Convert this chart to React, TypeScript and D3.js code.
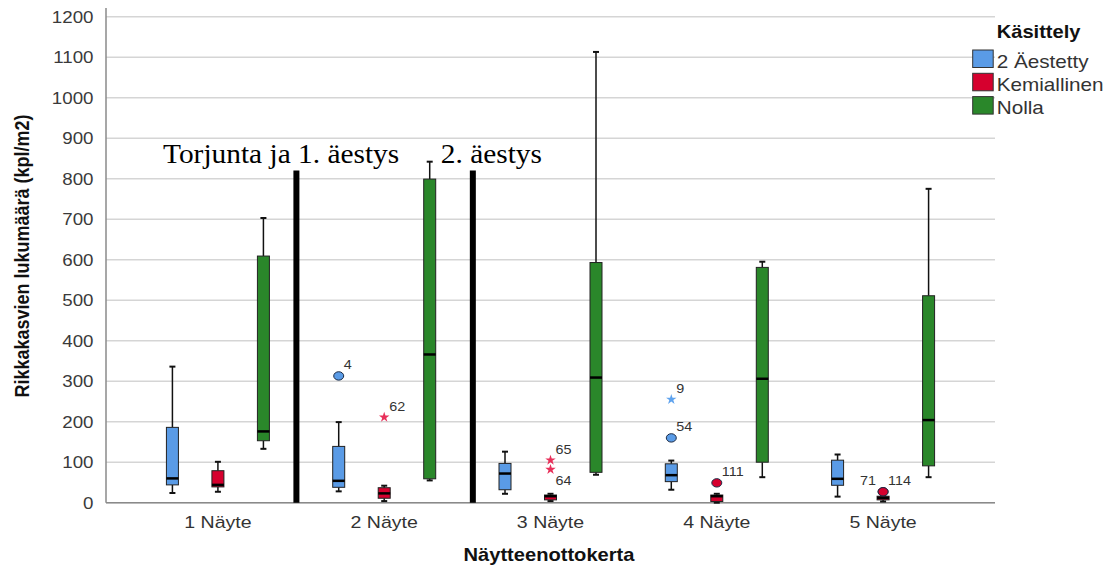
import React from "react";
import * as d3 from "d3";

// Sampling rounds and treatment groups
const categories = ["1 Näyte", "2 Näyte", "3 Näyte", "4 Näyte", "5 Näyte"];
const groups = ["2 Äestetty", "Kemiallinen", "Nolla"];
const groupColors = ["#5a9be6", "#d6002e", "#2a872a"];
const starColors = ["#5fa3ee", "#e8305a", "#2a872a"];

// Box statistics per round: [min whisker, Q1, median, Q3, max whisker]
const aestettyStats = [
  [24, 44, 60, 186, 336],
  [28, 38, 54, 139, 199],
  [22, 32, 72, 97, 126],
  [32, 52, 68, 96, 104],
  [15, 43, 59, 105, 119],
];
const kemiallinenStats = [
  [27, 39, 44, 79, 101],
  [4, 11, 23, 37, 42],
  [4, 7, 16, 19, 22],
  [0, 3, 16, 19, 22],
  [3, 7, 12, 16, 18],
];
const nollaStats = [
  [133, 153, 176, 609, 703],
  [55, 59, 366, 799, 842],
  [69, 75, 309, 593, 1113],
  [63, 100, 306, 581, 595],
  [63, 91, 204, 511, 775],
];
const seriesStats = [aestettyStats, kemiallinenStats, nollaStats];

// Outliers (circle) and extreme values (star) with case numbers
const outliers = [
  { cat: "2 Näyte", group: 0, value: 313, id: "4", shape: "circle", side: "up" },
  { cat: "2 Näyte", group: 1, value: 211, id: "62", shape: "star", side: "up" },
  { cat: "3 Näyte", group: 1, value: 105, id: "65", shape: "star", side: "up" },
  { cat: "3 Näyte", group: 1, value: 82, id: "64", shape: "star", side: "down" },
  { cat: "4 Näyte", group: 0, value: 255, id: "9", shape: "star", side: "up" },
  { cat: "4 Näyte", group: 0, value: 160, id: "54", shape: "circle", side: "up" },
  { cat: "4 Näyte", group: 1, value: 49, id: "111", shape: "circle", side: "up" },
  { cat: "5 Näyte", group: 1, value: 27, id: "71", shape: "circle", side: "left" },
  { cat: "5 Näyte", group: 1, value: 27, id: "114", shape: "circle", side: "up" },
];

const yTicks = [0, 100, 200, 300, 400, 500, 600, 700, 800, 900, 1000, 1100, 1200];

// Phase separators drawn between rounds (position in round-index units, top value)
const separators = [
  { at: 0.472, top: 820 },
  { at: 1.533, top: 820 },
];
const phaseLabels = [
  { at: -0.33, text: "Torjunta ja 1. äestys" },
  { at: 1.34, text: "2. äestys" },
];

const W = 1115;
const H = 569;
const plotLeft = 106;
const plotRight = 995;
const SX = 1.15; // horizontal stretch of sans-serif text
const SERIF_SX = 1.05;
const SANS = "'Liberation Sans', Arial, sans-serif";
const SERIF = "'Liberation Serif', 'Times New Roman', serif";

const y = d3.scaleLinear().domain([0, 1200]).range([502.7, 16.7]);
const x = d3.scalePoint<string>().domain(categories).range([plotLeft, plotRight]).padding(0.673);
const xIdx = d3
  .scaleLinear()
  .domain([0, categories.length - 1])
  .range([x(categories[0])!, x(categories[categories.length - 1])!]);
const xSub = d3.scalePoint<number>().domain([0, 1, 2]).range([-45.5, 45.5]);

const boxW = 12;
const capW = 6;

function SText(props: {
  x: number;
  y: number;
  size: number;
  anchor?: string;
  weight?: string | number;
  fill?: string;
  rotate?: number;
  children: React.ReactNode;
}) {
  const { x: tx, y: ty, size, anchor = "start", weight = "normal", fill = "#333", rotate, children } = props;
  const t = `translate(${tx},${ty}) scale(${SX},1)` + (rotate ? ` rotate(${rotate})` : "");
  return (
    <text transform={t} fontFamily={SANS} fontSize={size} textAnchor={anchor} fontWeight={weight} fill={fill}>
      {children}
    </text>
  );
}

const starPath = d3.symbol().type(d3.symbolStar).size(34)()!;

export default function App() {
  return (
    <svg width={W} height={H} style={{ position: "absolute", left: 0, top: 0, background: "#fff" }}>
      {/* gridlines */}
      {yTicks.map((t) => (
        <line key={"g" + t} x1={plotLeft} x2={plotRight} y1={y(t)} y2={y(t)} stroke="#d5d5d5" strokeWidth={1.6} />
      ))}
      {/* axes */}
      <line x1={plotLeft} x2={plotLeft} y1={8} y2={y(0)} stroke="#8a8a8a" strokeWidth={1.5} />
      <line x1={plotLeft} x2={plotRight} y1={y(0)} y2={y(0)} stroke="#8a8a8a" strokeWidth={1.5} />
      {yTicks.map((t) => (
        <SText key={"t" + t} x={93.5} y={y(t) + 5.8} size={16.3} anchor="end" fill="#3a3a3a">
          {t}
        </SText>
      ))}
      {categories.map((c) => (
        <SText key={"c" + c} x={x(c)!} y={528.3} size={17} anchor="middle" fill="#333">
          {c}
        </SText>
      ))}
      <SText x={549} y={561} size={17.5} anchor="middle" weight="bold" fill="#111">
        Näytteenottokerta
      </SText>
      <SText x={29} y={256} size={18} anchor="middle" weight="bold" fill="#111" rotate={-90}>
        Rikkakasvien lukumäärä (kpl/m2)
      </SText>

      {/* boxes */}
      {seriesStats.map((stats, gi) =>
        stats.map((s, ci) => {
          const cx = x(categories[ci])! + xSub(gi)!;
          const [lo, q1, med, q3, hi] = s;
          return (
            <g key={`b${gi}-${ci}`}>
              <line x1={cx} x2={cx} y1={y(hi)} y2={y(q3)} stroke="#111" strokeWidth={1.5} />
              <line x1={cx} x2={cx} y1={y(q1)} y2={y(lo)} stroke="#111" strokeWidth={1.5} />
              <line x1={cx - capW / 2} x2={cx + capW / 2} y1={y(hi)} y2={y(hi)} stroke="#111" strokeWidth={2} />
              <line x1={cx - capW / 2} x2={cx + capW / 2} y1={y(lo)} y2={y(lo)} stroke="#111" strokeWidth={2} />
              <rect
                x={cx - boxW / 2}
                y={y(q3)}
                width={boxW}
                height={Math.max(1, y(q1) - y(q3))}
                fill={groupColors[gi]}
                stroke="#222"
                strokeWidth={1}
              />
              <line x1={cx - boxW / 2} x2={cx + boxW / 2} y1={y(med)} y2={y(med)} stroke="#000" strokeWidth={2.5} />
            </g>
          );
        })
      )}

      {/* outliers */}
      {outliers.map((o, i) => {
        const cx = x(o.cat)! + xSub(o.group)!;
        const cy = y(o.value);
        const lx = o.side === "left" ? cx - 7 : cx + 5;
        const ly = o.side === "down" ? cy + 11 : cy - 11;
        return (
          <g key={"o" + i}>
            {o.shape === "circle" ? (
              <ellipse cx={cx} cy={cy} rx={5} ry={4.2} fill={groupColors[o.group]} stroke="#1b2a44" strokeWidth={1} />
            ) : (
              <path d={starPath} transform={`translate(${cx},${cy})`} fill={starColors[o.group]} />
            )}
            <SText x={lx} y={ly + 4.5} size={12.5} anchor={o.side === "left" ? "end" : "start"} fill="#333">
              {o.id}
            </SText>
          </g>
        );
      })}

      {/* phase separators and annotations */}
      {separators.map((s, i) => (
        <line key={"s" + i} x1={xIdx(s.at)} x2={xIdx(s.at)} y1={y(s.top)} y2={y(0)} stroke="#000" strokeWidth={6} />
      ))}
      {phaseLabels.map((p, i) => (
        <text
          key={"p" + i}
          transform={`translate(${xIdx(p.at)},162.7) scale(${SERIF_SX},1)`}
          fontFamily={SERIF}
          fontSize={28}
          fill="#000"
        >
          {p.text}
        </text>
      ))}

      {/* legend */}
      <SText x={996.7} y={37.7} size={17.5} weight="bold" fill="#111">
        Käsittely
      </SText>
      {groups.map((g, i) => (
        <g key={"l" + g}>
          <rect x={972.7} y={50 + i * 23.3} width={20.5} height={17.5} fill={groupColors[i]} stroke="#333" strokeWidth={1} />
          <SText x={996.7} y={68.3 + i * 22.7} size={18} fill="#333">
            {g}
          </SText>
        </g>
      ))}
    </svg>
  );
}
